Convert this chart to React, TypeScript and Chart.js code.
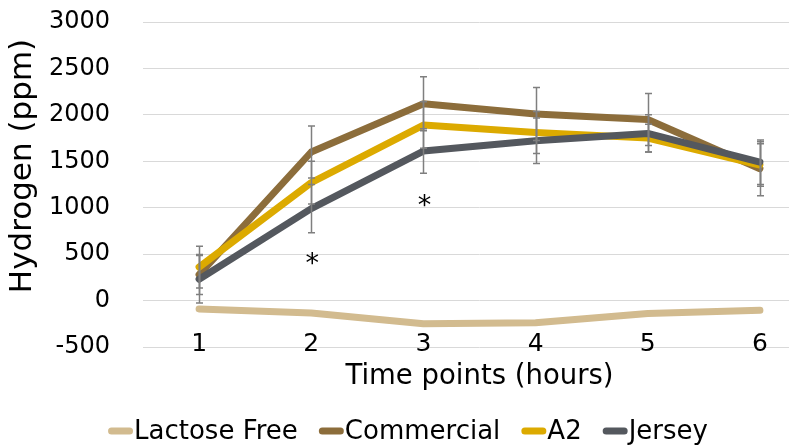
import React, { useEffect, useRef } from "react";
import { Chart, registerables } from "chart.js";

Chart.register(...registerables);

// ---- data ----
const categories = ["1", "2", "3", "4", "5", "6"];
const seriesNames = ["Lactose Free", "Commercial", "A2", "Jersey"];
const lactoseFree = [-90, -135, -250, -240, -140, -105];
const commercial = [280, 1600, 2120, 2010, 1950, 1420];
const a2 = [360, 1270, 1890, 1810, 1750, 1460];
const jersey = [230, 990, 1610, 1720, 1800, 1490];
const commercialErr = [215, 280, 290, 285, 280, 290];
const a2Err = [225, 230, 250, 225, 150, 230];
const jerseyErr = [255, 260, 240, 245, 200, 240];
const yMin = -500;
const yMax = 3000;
const yStep = 500;
const asteriskCategories = ["2", "3"];
const asteriskValues = [430, 1055];
const xTitle = "Time points (hours)";
const yTitle = "Hydrogen (ppm)";

const colors = ["#D2BB8F", "#8C6D3B", "#DCAA00", "#54585E"];
const FONT = "DejaVu Sans";

const errorBarsPlugin = {
  id: "errorBars",
  afterDatasetsDraw(chart: any) {
    const { ctx } = chart;
    const yScale = chart.scales.y;
    ctx.save();
    ctx.strokeStyle = "#7f7f7f";
    ctx.lineWidth = 1.5;
    chart.data.datasets.forEach((ds: any, i: number) => {
      if (!ds.errors) return;
      const meta = chart.getDatasetMeta(i);
      meta.data.forEach((pt: any, j: number) => {
        const v = ds.data[j];
        const e = ds.errors[j];
        const x = Math.round(pt.x) + 0.5;
        const yTop = yScale.getPixelForValue(v + e);
        const yBot = yScale.getPixelForValue(v - e);
        ctx.beginPath();
        ctx.moveTo(x, yTop);
        ctx.lineTo(x, yBot);
        ctx.moveTo(x - 3.5, yTop);
        ctx.lineTo(x + 3.5, yTop);
        ctx.moveTo(x - 3.5, yBot);
        ctx.lineTo(x + 3.5, yBot);
        ctx.stroke();
      });
    });
    // significance asterisks
    ctx.fillStyle = "#000";
    ctx.font = `27px "${FONT}"`;
    ctx.textAlign = "center";
    ctx.textBaseline = "alphabetic";
    asteriskCategories.forEach((c, k) => {
      const x = chart.scales.x.getPixelForValue(categories.indexOf(c));
      const y = yScale.getPixelForValue(asteriskValues[k]);
      ctx.fillText("*", x + 1, y + 11);
    });
    ctx.restore();
  },
};

const legendPlugin = {
  id: "customLegend",
  afterDraw(chart: any) {
    const { ctx, width } = chart;
    ctx.save();
    // y-axis title
    ctx.fillStyle = "#000";
    ctx.font = `31px "${FONT}"`;
    ctx.textAlign = "center";
    ctx.textBaseline = "middle";
    ctx.translate(23, 166);
    ctx.rotate(-Math.PI / 2);
    ctx.fillText(yTitle, 0, 0);
    ctx.setTransform(1, 0, 0, 1, 0, 0);
    // legend
    ctx.font = `26px "${FONT}"`;
    ctx.textBaseline = "middle";
    ctx.textAlign = "left";
    const markerW = 25;
    const gapText = 1;
    const gapItem = 21;
    const items = chart.data.datasets.map((ds: any) => ({
      label: ds.label,
      color: ds.borderColor,
      w: ctx.measureText(ds.label).width,
    }));
    const total =
      items.reduce((s: number, it: any) => s + markerW + gapText + it.w, 0) +
      gapItem * (items.length - 1);
    let x = width / 2 - total / 2;
    const y = 431;
    items.forEach((it: any) => {
      ctx.strokeStyle = it.color;
      ctx.lineWidth = 7;
      ctx.lineCap = "round";
      ctx.beginPath();
      ctx.moveTo(x + 3.5, y);
      ctx.lineTo(x + markerW - 3.5, y);
      ctx.stroke();
      ctx.fillStyle = "#000";
      ctx.fillText(it.label, x + markerW + gapText, y + 1);
      x += markerW + gapText + it.w + gapItem;
    });
    ctx.restore();
  },
};

export default function App() {
  const ref = useRef<HTMLCanvasElement>(null);
  useEffect(() => {
    document.body.style.margin = "0";
    const mk = (i: number, data: number[], errors: number[] | null, order: number) => ({
      label: seriesNames[i],
      data,
      errors,
      borderColor: colors[i],
      backgroundColor: colors[i],
      borderWidth: 7,
      tension: 0,
      pointRadius: 0,
      borderJoinStyle: "round",
      borderCapStyle: "round",
      order,
    });
    const chart = new Chart(ref.current as HTMLCanvasElement, {
      type: "line",
      data: {
        labels: categories,
        datasets: [
          mk(0, lactoseFree, null, 4),
          mk(1, commercial, commercialErr, 3),
          mk(2, a2, a2Err, 2),
          mk(3, jersey, jerseyErr, 1),
        ] as any,
      },
      options: {
        responsive: false,
        animation: false,
        layout: { padding: { top: 22, left: 0, right: 0, bottom: 55 } },
        plugins: { legend: { display: false }, tooltip: { enabled: false } },
        scales: {
          x: {
            type: "category",
            offset: true,
            grid: { display: false, drawTicks: false },
            border: { display: false },
            ticks: { color: "#000", font: { family: FONT, size: 25 }, mirror: true, padding: -12 },
            title: {
              display: true,
              text: xTitle,
              color: "#000",
              font: { family: FONT, size: 27.5 },
              padding: { top: 0, bottom: 0 },
            },
            afterFit: (s: any) => {
              s.height = 46;
            },
          },
          y: {
            min: yMin,
            max: yMax,
            ticks: {
              stepSize: yStep,
              color: "#000",
              font: { family: FONT, size: 24 },
              padding: 33,
              callback: (v: any) => String(v),
            },
            grid: { color: "#d9d9d9", lineWidth: 1, drawTicks: false },
            border: { display: false },
            title: { display: false },
            afterFit: (s: any) => {
              s.width = 143;
              s.paddingTop = 0;
              s.paddingBottom = 0;
            },
          },
        },
      } as any,
      plugins: [errorBarsPlugin, legendPlugin],
    });
    return () => chart.destroy();
  }, []);
  return (
    <div style={{ width: 789, height: 448, overflow: "hidden", position: "relative" }}>
      <canvas ref={ref} width={816} height={448} style={{ display: "block", width: 816, height: 448 }} />
    </div>
  );
}
